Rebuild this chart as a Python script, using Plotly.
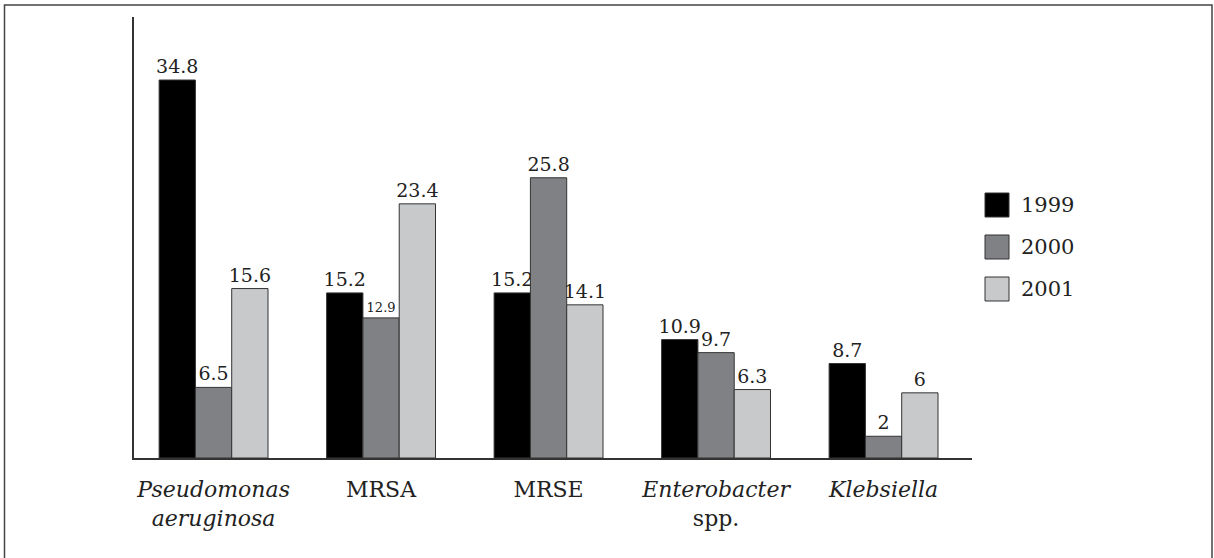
import plotly.graph_objects as go

categories = ["<i>Pseudomonas</i><br><i>aeruginosa</i>", "MRSA", "MRSE",
              "<i>Enterobacter</i><br>spp.", "<i>Klebsiella</i>"]
years = ["1999", "2000", "2001"]
v1999 = [34.8, 15.2, 15.2, 10.9, 8.7]
v2000 = [6.5, 12.9, 25.8, 9.7, 2]
v2001 = [15.6, 23.4, 14.1, 6.3, 6]
colors = ["#000000", "#808184", "#c8c9cb"]
label_sizes = {
    "1999": [19, 19, 19, 19, 19],
    "2000": [19, 13, 19, 19, 19],
    "2001": [19, 19, 19, 19, 19],
}

FONT = "DejaVu Serif"
xs = list(range(len(categories)))

fig = go.Figure()
for name, vals, col in zip(years, [v1999, v2000, v2001], colors):
    fig.add_trace(go.Bar(
        x=xs, y=vals, name=name,
        marker=dict(color=col, line=dict(color="#333333", width=1)),
        texttemplate="%{y}", textposition="outside", constraintext="none",
        textfont=dict(family=FONT, size=label_sizes[name], color="#222222"),
        cliponaxis=False, showlegend=False,
    ))

W, H = 1214, 558
L, R, T, B = 134, 242, 17, 100
pw, ph = W - L - R, H - T - B

def px_x(p):
    return (p - L) / pw

def px_y(p):
    return (H - B - p) / ph

shapes = []
annotations = []
# outer frame
shapes.append(dict(type="rect", xref="paper", yref="paper",
                   x0=px_x(4.5), x1=px_x(1212), y0=px_y(575), y1=px_y(5),
                   line=dict(color="#444444", width=1.5), fillcolor="rgba(0,0,0,0)",
                   layer="below"))
# manual legend
for i, (name, col) in enumerate(zip(years, colors)):
    cy = 205 + i * 42
    shapes.append(dict(type="rect", xref="paper", yref="paper",
                       x0=px_x(985), x1=px_x(1009), y0=px_y(cy + 12), y1=px_y(cy - 12),
                       fillcolor=col, line=dict(color="#333333", width=1)))
    annotations.append(dict(xref="paper", yref="paper", x=px_x(1019), y=px_y(cy),
                            text=name, showarrow=False, xanchor="left", yanchor="middle",
                            font=dict(family=FONT, size=21, color="#222222")))

fig.update_layout(
    width=W, height=H,
    margin=dict(l=L, r=R, t=T, b=B),
    paper_bgcolor="white", plot_bgcolor="white",
    barmode="group", bargap=0.35, bargroupgap=0,
    font=dict(family=FONT, color="#222222"),
    xaxis=dict(tickmode="array", tickvals=xs, ticktext=categories,
               range=[-0.475, 4.528], showgrid=False, zeroline=False,
               showline=True, linecolor="#333333", linewidth=2,
               ticks="", ticklabelstandoff=11,
               tickfont=dict(family=FONT, size=22, color="#222222")),
    yaxis=dict(range=[0, 40.6], showgrid=False, zeroline=False,
               showline=True, linecolor="#333333", linewidth=2,
               showticklabels=False, ticks=""),
    shapes=shapes, annotations=annotations,
)

fig.write_html("out.html", config={"displayModeBar": False},
               post_script="document.body.style.margin='0px';document.body.style.overflow='hidden';")
